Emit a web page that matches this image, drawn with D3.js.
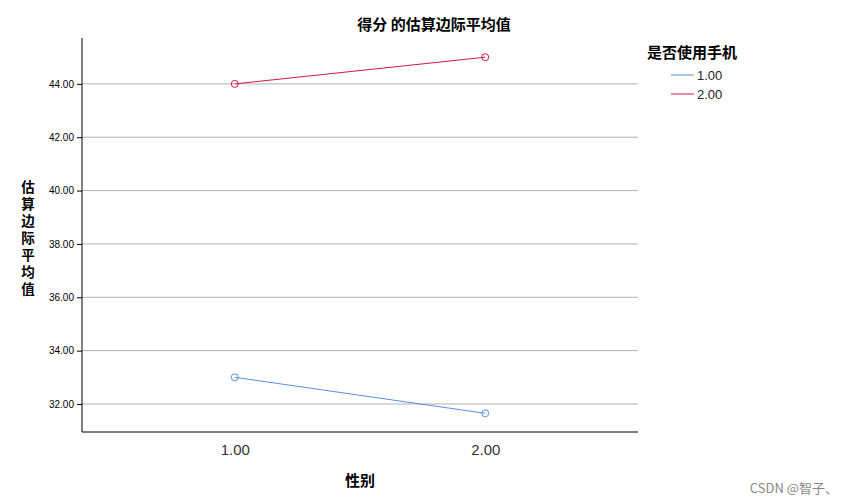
<!DOCTYPE html><html><head><meta charset="utf-8"><script src="https://cdn.jsdelivr.net/npm/d3@7"></script>
<style>body{margin:0;background:#fff}</style></head><body><svg width="854" height="504"></svg><script>
const genders=[1,2];
const seriesNames=["1.00","2.00"];
const series1=[33.0,31.65];
const series2=[44.0,45.0];
const yTicks=[32,34,36,38,40,42,44];
const colors=["#5b8fe0","#d4144a"];
const svg=d3.select("svg");
const x=d3.scaleLinear().domain([0.39,2.61]).range([82,638]);
const y=d3.scaleLinear().domain([30.95,45.72]).range([432,38]);
const cjk="'Noto Sans CJK SC'";
svg.append("g").selectAll("line").data(yTicks).join("line").attr("x1",82).attr("x2",638)
 .attr("y1",d=>y(d)).attr("y2",d=>y(d)).attr("stroke","#b0b0b0");
const ya=svg.append("g").attr("transform","translate(82,0)").call(d3.axisLeft(y).tickValues(yTicks).tickFormat(d3.format(".2f")).tickSize(5));
ya.select(".domain").attr("d","M0,38V432");
ya.selectAll("text").attr("font-family","Arial, Liberation Sans").attr("font-size",10).attr("fill","#000");
const xa=svg.append("g").attr("transform","translate(0,432)").call(d3.axisBottom(x).tickValues(genders).tickFormat(d3.format(".2f")).tickSize(0));
xa.select(".domain").attr("d","M82,0H638");
xa.selectAll("text").attr("font-family","Arial, Liberation Sans").attr("font-size",15).attr("fill","#333").attr("dy","1.3em");
[series1,series2].forEach((s,i)=>{
 const pts=genders.map((g,j)=>[x(g),y(s[j])]);
 svg.append("path").attr("d",d3.line()(pts)).attr("fill","none").attr("stroke",colors[i]).attr("stroke-width",1);
 svg.append("g").selectAll("circle").data(pts).join("circle").attr("cx",d=>d[0]).attr("cy",d=>d[1]).attr("r",3.5).attr("fill","none").attr("stroke",colors[i]);
});
svg.append("text").attr("x",434).attr("y",30).attr("text-anchor","middle").attr("font-family",cjk).attr("font-size",15).attr("font-weight","bold").text("得分 的估算边际平均值");
svg.append("text").attr("x",360).attr("y",486).attr("text-anchor","middle").attr("font-family",cjk).attr("font-size",15).attr("font-weight","bold").text("性别");
const yl="估算边际平均值".split("");
svg.append("g").selectAll("text").data(yl).join("text").attr("x",28).attr("y",(d,i)=>192+i*17).attr("text-anchor","middle").attr("font-family",cjk).attr("font-size",13.5).attr("font-weight","bold").text(d=>d);
svg.append("text").attr("x",647).attr("y",58).attr("font-family",cjk).attr("font-size",15).attr("font-weight","bold").text("是否使用手机");
seriesNames.forEach((n,i)=>{
 const yy=75+i*19;
 svg.append("line").attr("x1",671).attr("x2",694).attr("y1",yy).attr("y2",yy).attr("stroke",colors[i]);
 svg.append("text").attr("x",697).attr("y",yy+5).attr("font-family","Arial, Liberation Sans").attr("font-size",13).attr("fill","#222").text(n);
});
svg.append("text").attr("x",838).attr("y",493).attr("text-anchor","end").attr("font-family",cjk).attr("font-size",13).attr("fill","#888").text("CSDN @智子、");
</script></body></html>
